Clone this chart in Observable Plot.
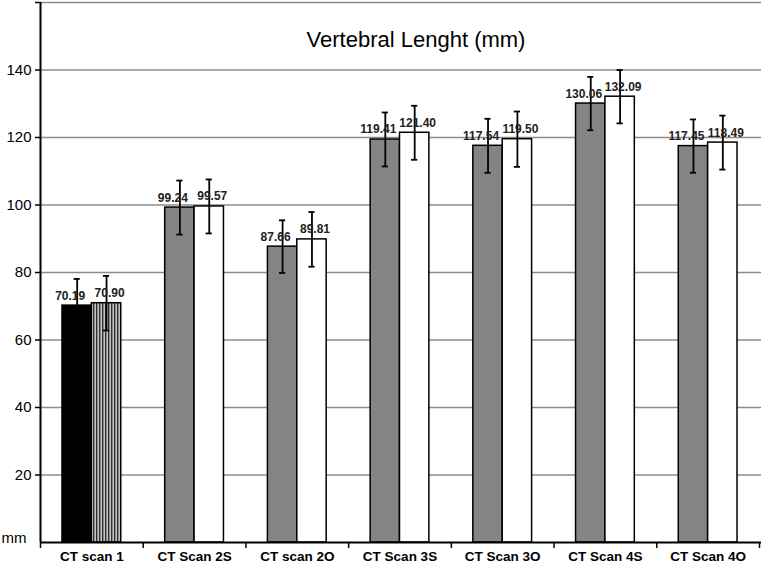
<!DOCTYPE html>
<html><head><meta charset="utf-8">
<script src="https://cdn.jsdelivr.net/npm/d3@7"></script>
<script src="https://cdn.jsdelivr.net/npm/@observablehq/plot@0.6"></script>
<style>
body{margin:0;background:#fff}
#chart{position:relative;width:761px;height:568px}
</style>
</head><body><div id="chart"></div>
<script>
const groups = ["CT scan 1","CT Scan 2S","CT scan 2O","CT Scan 3S","CT Scan 3O","CT Scan 4S","CT Scan 4O"];
const meanA = [70.19, 99.24, 87.66, 119.41, 117.54, 130.06, 117.45];
const meanB = [70.90, 99.57, 89.81, 121.40, 119.50, 132.09, 118.49];
const sdA = [7.9, 8.0, 7.8, 8.0, 8.0, 7.9, 7.9];
const sdB = [8.1, 8.0, 8.1, 8.0, 8.2, 7.9, 8.0];
const yTicks = [20, 40, 60, 80, 100, 120, 140, 160];
const gridLines = [20, 40, 60, 80, 100, 120, 140, 160];
const title = "Vertebral Lenght (mm)";
const yUnit = "mm";

const rows = groups.flatMap((g, i) => [
  {group: g, i, s: "A", v: meanA[i], e: sdA[i]},
  {group: g, i, s: "B", v: meanB[i], e: sdB[i]}
]);
const BW = 0.286;
const left = d => d.s === "A" ? d.i + 0.5 - BW : d.i + 0.5;
const right = d => d.s === "A" ? d.i + 0.5 : d.i + 0.5 + BW;
const mid = d => (left(d) + right(d)) / 2;
const fillOf = d => d.i === 0 ? (d.s === "A" ? "black" : "url(#stripes)") : (d.s === "A" ? "#848484" : "white");
const CAP = 0.03;

const svg = Plot.plot({
  width: 761, height: 568,
  marginLeft: 40, marginRight: 0, marginTop: 2, marginBottom: 26,
  x: {type: "linear", domain: [0, groups.length], range: [40, 759]},
  y: {domain: [0, 160]},
  style: {fontFamily: "'Liberation Sans', Arial, sans-serif", background: "white", color: "black"},
  marks: [
    Plot.ruleY(gridLines, {stroke: "#8c8c8c", strokeWidth: 1.5}),
    Plot.rectY(rows, {x1: left, x2: right, y1: 0, y2: "v", fill: fillOf, stroke: "black", strokeWidth: 1.5}),
    Plot.ruleX(rows, {x: mid, y1: d => d.v - d.e, y2: d => d.v + d.e, stroke: "black", strokeWidth: 1.8}),
    Plot.ruleY(rows, {y: d => d.v + d.e, x1: d => mid(d) - CAP, x2: d => mid(d) + CAP, stroke: "black", strokeWidth: 1.8}),
    Plot.ruleY(rows, {y: d => d.v - d.e, x1: d => mid(d) - CAP, x2: d => mid(d) + CAP, stroke: "black", strokeWidth: 1.8}),
    Plot.text(rows.filter(d => d.s === "A"), {x: mid, y: "v", text: d => d.v.toFixed(2), dy: -6, dx: -7, lineAnchor: "bottom", fontSize: 12, fontWeight: "bold", fill: "#222"}),
    Plot.text(rows.filter(d => d.s === "B"), {x: mid, y: "v", text: d => d.v.toFixed(2), dy: -6, dx: 3, lineAnchor: "bottom", fontSize: 12, fontWeight: "bold", fill: "#222"}),
    Plot.ruleX([0], {stroke: "black", strokeWidth: 2}),
    Plot.ruleY([0], {stroke: "black", strokeWidth: 2}),
    Plot.axisY({ticks: yTicks, tickSize: 5, tickPadding: 4, fontSize: 15, strokeWidth: 1.5, label: null, tickFormat: d => d === 160 ? "" : String(d)}),
    Plot.axisX({ticks: d3.range(groups.length + 1), tickSize: 6, strokeWidth: 1.5, tickFormat: () => "", label: null}),
    Plot.axisX({ticks: groups.map((g, i) => i + 0.5), tickSize: 0, tickPadding: 9, tickFormat: t => groups[Math.floor(t)], fontSize: 13.5, fontWeight: "bold", label: null}),
    Plot.text([title], {frameAnchor: "top", dx: 15, dy: 37, lineAnchor: "middle", fontSize: 22}),
    Plot.text([yUnit], {frameAnchor: "bottom-left", textAnchor: "end", dx: -14, lineAnchor: "bottom", fontSize: 15})
  ]
});

const defs = d3.select(svg).insert("defs", ":first-child");
const pat = defs.append("pattern").attr("id", "stripes").attr("patternUnits", "userSpaceOnUse")
  .attr("width", 3).attr("height", 10);
pat.append("rect").attr("width", 3).attr("height", 10).attr("fill", "#c4c4c4");
pat.append("rect").attr("width", 1.4).attr("height", 10).attr("fill", "#303030");

document.getElementById("chart").appendChild(svg);
</script>
</body></html>
